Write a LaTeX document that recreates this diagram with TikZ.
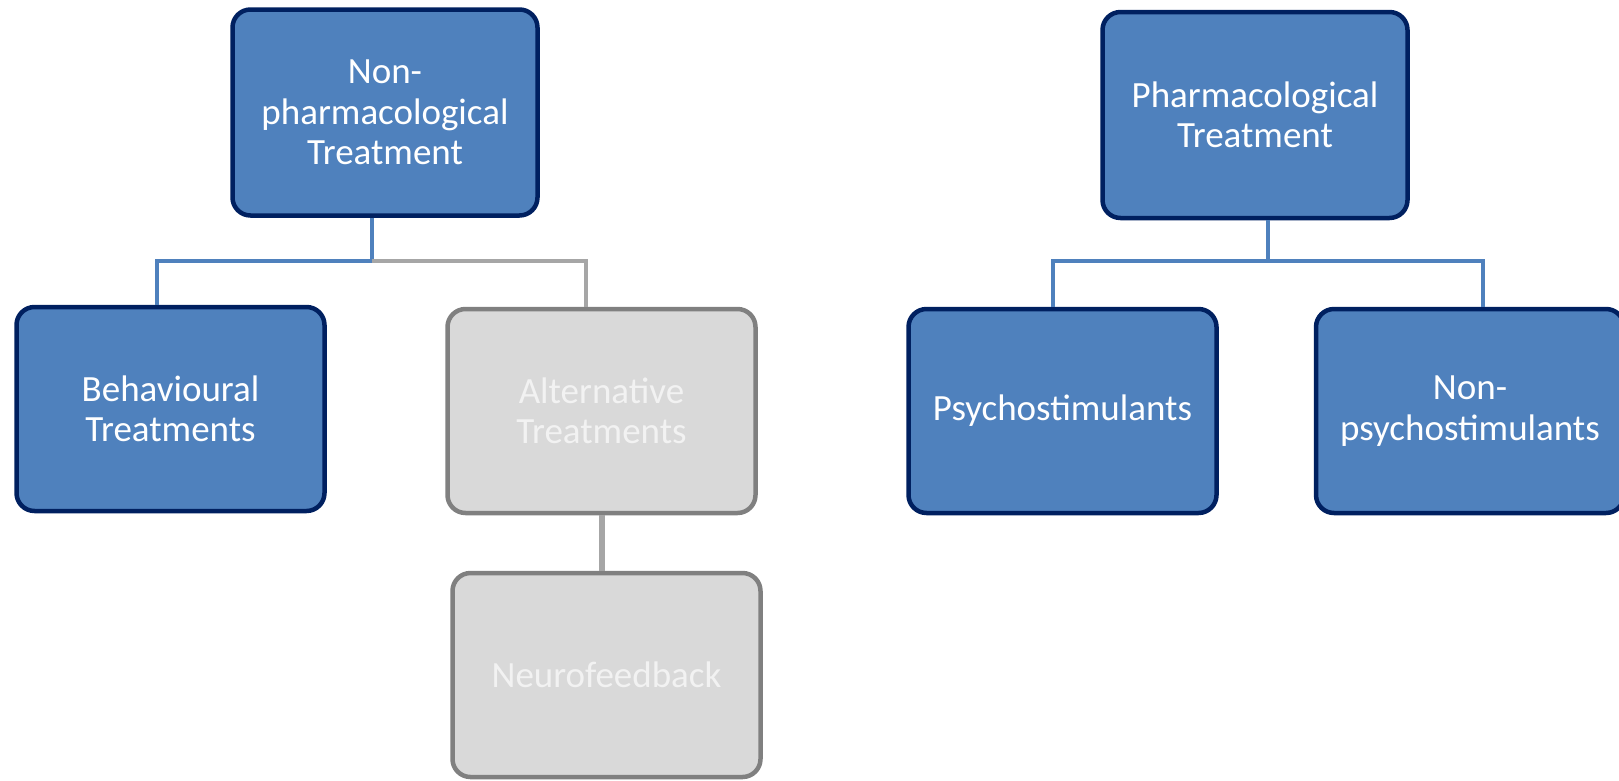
\documentclass[tikz,border=0pt]{standalone}
\usepackage{fontspec}
\setmainfont{Carlito}
\definecolor{boxblue}{RGB}{79,129,189}
\definecolor{navy}{RGB}{0,32,96}
\definecolor{boxgray}{RGB}{217,217,217}
\definecolor{bordergray}{RGB}{128,128,128}
\definecolor{linegray}{RGB}{166,166,166}
\definecolor{textgray}{RGB}{242,242,242}
\tikzset{
  bluebox/.style={draw=navy, fill=boxblue, line width=4.5pt, rounded corners=18pt,
    text=white, align=center, inner sep=0pt, font=\fontsize{37}{40.5}\selectfont},
  graybox/.style={draw=bordergray, fill=boxgray, line width=4.5pt, rounded corners=18pt,
    text=textgray, align=center, inner sep=0pt, font=\fontsize{37}{40.5}\selectfont},
  childsize/.style={minimum width=308pt, minimum height=204pt},
  rootsize/.style={minimum width=305pt, minimum height=206pt},
  blueline/.style={draw=boxblue, line width=4.5pt},
  grayline/.style={draw=linegray, line width=4.5pt},
}
\begin{document}
\begin{tikzpicture}[x=1pt, y=-1pt]
\useasboundingbox (0,0) rectangle (1619,780);
\coordinate (j1) at (372,261);
\coordinate (hb) at (157,261);
\coordinate (ha) at (586,261);
\coordinate (j2) at (1268,261);
\coordinate (hp) at (1053,261);
\coordinate (hn) at (1483,261);
\coordinate (vn) at (602,0);
% boxes
\node[bluebox, rootsize] (np) at (385,112.5) {Non-\\pharmacological\\Treatment};
\node[bluebox, childsize] (beh) at (170.5,409) {Behavioural\\Treatments};
\node[graybox, childsize] (alt) at (601.5,411) {Alternative\\Treatments};
\node[graybox, childsize] (neuro) at (606.5,675) {Neurofeedback};
\node[bluebox, rootsize] (ph) at (1255,115) {Pharmacological\\Treatment};
\node[bluebox, childsize] (psy) at (1062.5,411) {Psychostimulants};
\node[bluebox, childsize] (nps) at (1470,411) {Non-\\psychostimulants};
% connectors
\draw[blueline] (np.south -| j1) -- (j1) -- (hb) -- (beh.north -| hb);
\draw[grayline] (j1) -- (ha) -- (alt.north -| ha);
\draw[grayline, line width=6.5pt] (alt.south -| vn) -- (neuro.north -| vn);
\draw[blueline] (ph.south -| j2) -- (j2) -- (hp) -- (psy.north -| hp);
\draw[blueline] (j2) -- (hn) -- (nps.north -| hn);
\end{tikzpicture}
\end{document}
